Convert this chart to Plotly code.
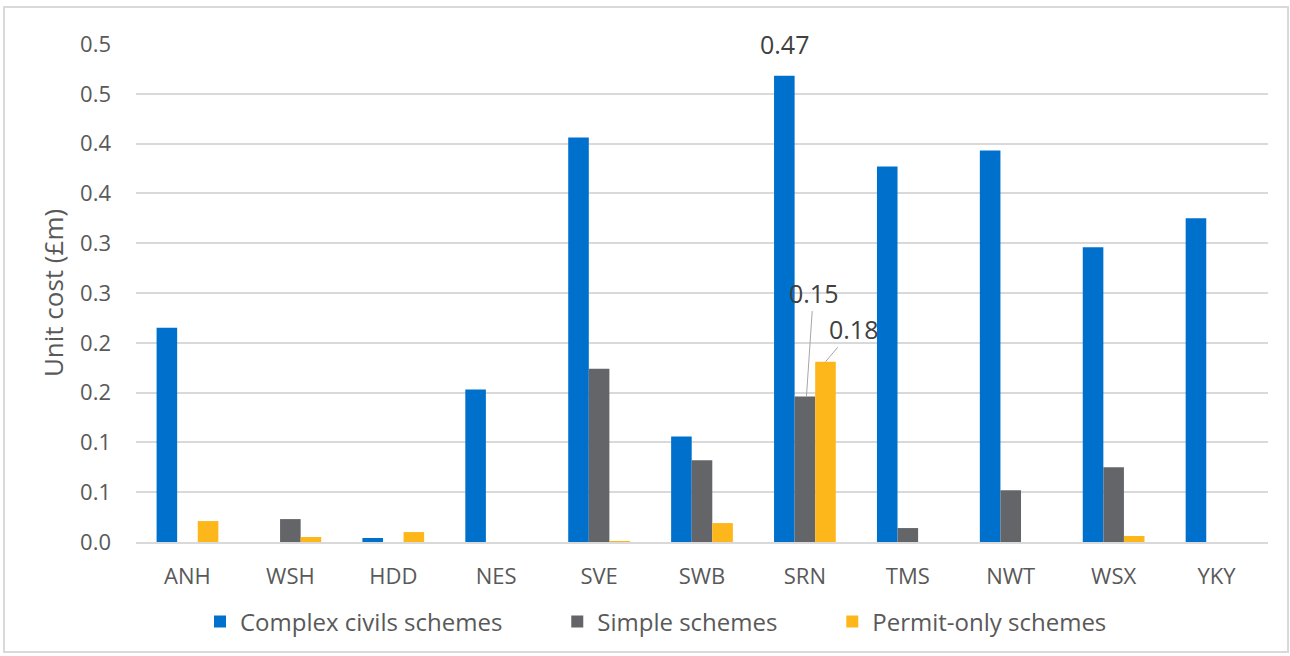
import plotly.graph_objects as go

categories = ["ANH", "WSH", "HDD", "NES", "SVE", "SWB", "SRN", "TMS", "NWT", "WSX", "YKY"]
complex_civils = [0.215, 0.0, 0.004, 0.153, 0.406, 0.106, 0.468, 0.377, 0.393, 0.296, 0.325]
simple = [0.0, 0.023, 0.0, 0.0, 0.174, 0.082, 0.146, 0.014, 0.052, 0.075, 0.0]
permit_only = [0.021, 0.005, 0.010, 0.0, 0.001, 0.019, 0.181, 0.0, 0.0, 0.006, 0.0]

y_tickvals = [0.0, 0.05, 0.10, 0.15, 0.20, 0.25, 0.30, 0.35, 0.40, 0.45, 0.50]
y_ticktext = ["0.0", "0.1", "0.1", "0.2", "0.2", "0.3", "0.3", "0.4", "0.4", "0.5", "0.5"]

series_names = ["Complex civils schemes", "Simple schemes", "Permit-only schemes"]
colors = ["#0070CD", "#636569", "#FDB71A"]

FONT = "Open Sans"
W, H = 1290, 656
L, R, T, B = 136, 22, 44, 114
pw, ph = W - L - R, H - T - B
PAD = "\u00a0" * 8

fig = go.Figure()
for i, (name, vals, c) in enumerate(zip(series_names, [complex_civils, simple, permit_only], colors)):
    label = name + (PAD if i < len(series_names) - 1 else "")
    fig.add_trace(go.Bar(x=categories, y=vals, name=label, marker=dict(color=c, line=dict(width=0))))

idx = categories.index("SRN")
ann_font = dict(family=FONT, size=25, color="#404040")
annotations = [
    dict(x=idx - 0.2, y=complex_civils[idx], xref="x", yref="y", text=f"{complex_civils[idx]:.2f}",
         showarrow=False, yanchor="bottom", yshift=13, font=ann_font),
    dict(x=idx + 0.015, y=simple[idx], xref="x", yref="y", text=f"{simple[idx]:.2f}",
         showarrow=True, arrowhead=0, arrowwidth=1, arrowcolor="#A6A6A6", ax=7, ay=-104,
         font=ann_font, standoff=0),
    dict(x=idx + 0.2, y=permit_only[idx], xref="x", yref="y", text=f"{permit_only[idx]:.2f}",
         showarrow=True, arrowhead=0, arrowwidth=1, arrowcolor="#A6A6A6", ax=28, ay=-33,
         font=ann_font, standoff=0),
]

def px_x(p):
    return (p - L) / pw

def px_y(p):
    return (H - B - p) / ph

fig.update_layout(
    width=W, height=H,
    margin=dict(l=L, r=R, t=T, b=B),
    paper_bgcolor="white", plot_bgcolor="white",
    barmode="group", bargap=0.4, bargroupgap=0,
    font=dict(family=FONT, color="#595959"),
    annotations=annotations,
    shapes=[dict(type="rect", xref="paper", yref="paper",
                 x0=px_x(4), x1=px_x(1288), y0=px_y(652), y1=px_y(7),
                 line=dict(color="#D9D9D9", width=2), fillcolor="rgba(0,0,0,0)", layer="below")],
    legend=dict(orientation="h", x=px_x(200), xanchor="left", y=px_y(622), yanchor="middle",
                font=dict(family=FONT, size=24, color="#595959"), itemwidth=30,
                bgcolor="rgba(0,0,0,0)"),
    xaxis=dict(showgrid=False, showline=True, linecolor="#D9D9D9", linewidth=2,
               tickfont=dict(family=FONT, size=22, color="#595959"), ticks="", ticklabelstandoff=14),
    yaxis=dict(range=[0, 0.5], tickvals=y_tickvals, ticktext=y_ticktext,
               showgrid=True, gridcolor="#D9D9D9", gridwidth=2, zeroline=False,
               tickfont=dict(family=FONT, size=22, color="#595959"), ticks="", ticklabelstandoff=24,
               title=dict(text="Unit cost (£m)", font=dict(family=FONT, size=26, color="#595959"), standoff=8)),
)

fig.write_html("out.html")
